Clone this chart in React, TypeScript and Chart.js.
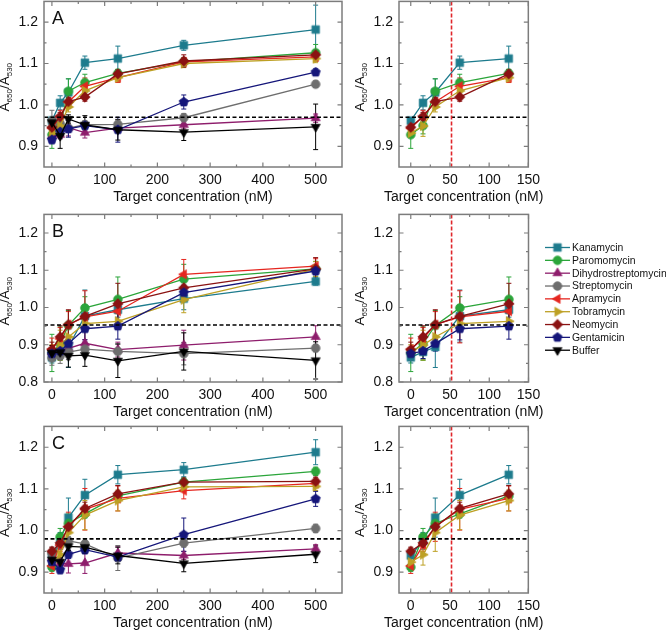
import React, { useEffect, useRef } from 'react';
import { Chart, registerables } from 'chart.js';

Chart.register(...registerables);

const FONT = '"Liberation Sans", Arial, Helvetica, sans-serif';

// Target concentrations (nM)
const CONC = [0, 15.625, 31.25, 62.5, 125, 250, 500];

const SERIES_NAMES = ['Kanamycin', 'Paromomycin', 'Dihydrostreptomycin', 'Streptomycin', 'Apramycin', 'Tobramycin', 'Neomycin', 'Gentamicin', 'Buffer'];
const SERIES_COLORS = ['#1d7b8d', '#2ba53a', '#8e1d6c', '#6e6e6e', '#e5261f', '#bda024', '#8a1212', '#15167a', '#000000'];
const SERIES_SHAPES = ['square', 'circle', 'triangleUp', 'circle', 'triangleLeft', 'triangleRight', 'diamond', 'pentagon', 'triangleDown'];

// Tick labels
const X_TICKS_FULL = [0, 100, 200, 300, 400, 500];
const X_TICKS_ZOOM = [0, 50, 100, 150];
const Y_TICKS_AC = [0.9, 1.0, 1.1, 1.2];
const Y_TICKS_B = [0.8, 0.9, 1.0, 1.1, 1.2];

// Reference lines
const THRESHOLD_A = 0.97;
const THRESHOLD_B = 0.953;
const THRESHOLD_C = 0.98;
const LOD_NM = 52;

// Panel A values
const A_KANAMYCIN = [0.962, 1.005, 1.030, 1.102, 1.112, 1.144, 1.182];
const A_PAROMOMYCIN = [0.928, 0.950, 1.033, 1.054, 1.076, 1.104, 1.126];
const A_DIHYDROSTREP = [0.925, 0.928, 0.945, 0.933, 0.944, 0.952, 0.968];
const A_STREPTOMYCIN = [0.962, 0.955, 0.944, 0.952, 0.953, 0.969, 1.050];
const A_APRAMYCIN = [0.944, 0.972, 1.007, 1.045, 1.066, 1.104, 1.116];
const A_TOBRAMYCIN = [0.932, 0.949, 0.995, 1.034, 1.066, 1.100, 1.112];
const A_NEOMYCIN = [0.946, 0.972, 1.008, 1.019, 1.075, 1.106, 1.121];
const A_GENTAMICIN = [0.916, 0.935, 0.942, 0.950, 0.940, 1.007, 1.079];
const A_BUFFER = [0.958, 0.925, 0.966, 0.952, 0.940, 0.934, 0.947];

const A_KANAMYCIN_ERR = [0.008, 0.017, 0.033, 0.016, 0.030, 0.012, 0.059];
const A_PAROMOMYCIN_ERR = [0.033, 0.020, 0.030, 0.020, 0.010, 0.010, 0.020];
const A_DIHYDROSTREP_ERR = [0.010, 0.010, 0.020, 0.013, 0.010, 0.010, 0.010];
const A_STREPTOMYCIN_ERR = [0.025, 0.010, 0.010, 0.010, 0.010, 0.010, 0.008];
const A_APRAMYCIN_ERR = [0.010, 0.015, 0.015, 0.020, 0.012, 0.010, 0.010];
const A_TOBRAMYCIN_ERR = [0.010, 0.025, 0.012, 0.010, 0.010, 0.010, 0.010];
const A_NEOMYCIN_ERR = [0.010, 0.010, 0.010, 0.010, 0.010, 0.015, 0.010];
const A_GENTAMICIN_ERR = [0.010, 0.015, 0.020, 0.010, 0.030, 0.017, 0.008];
const A_BUFFER_ERR = [0.010, 0.030, 0.010, 0.022, 0.025, 0.020, 0.055];

// Panel B values
const B_KANAMYCIN = [0.866, 0.881, 0.894, 0.977, 0.994, 1.024, 1.070];
const B_PAROMOMYCIN = [0.878, 0.903, 0.952, 0.999, 1.022, 1.076, 1.104];
const B_DIHYDROSTREP = [0.880, 0.885, 0.890, 0.904, 0.887, 0.899, 0.921];
const B_STREPTOMYCIN = [0.865, 0.870, 0.880, 0.888, 0.882, 0.876, 0.891];
const B_APRAMYCIN = [0.888, 0.916, 0.954, 0.975, 0.990, 1.089, 1.111];
const B_TOBRAMYCIN = [0.880, 0.899, 0.921, 0.957, 0.963, 1.021, 1.103];
const B_NEOMYCIN = [0.887, 0.921, 0.954, 0.976, 1.010, 1.053, 1.104];
const B_GENTAMICIN = [0.876, 0.883, 0.903, 0.943, 0.950, 1.040, 1.098];
const B_BUFFER = [0.878, 0.880, 0.870, 0.872, 0.857, 0.882, 0.858];

const B_KANAMYCIN_ERR = [0.015, 0.020, 0.055, 0.070, 0.020, 0.030, 0.010];
const B_PAROMOMYCIN_ERR = [0.050, 0.045, 0.040, 0.030, 0.060, 0.040, 0.020];
const B_DIHYDROSTREP_ERR = [0.010, 0.020, 0.020, 0.010, 0.020, 0.040, 0.030];
const B_STREPTOMYCIN_ERR = [0.020, 0.020, 0.020, 0.010, 0.020, 0.030, 0.010];
const B_APRAMYCIN_ERR = [0.030, 0.030, 0.035, 0.070, 0.030, 0.040, 0.020];
const B_TOBRAMYCIN_ERR = [0.020, 0.040, 0.030, 0.020, 0.020, 0.035, 0.020];
const B_NEOMYCIN_ERR = [0.020, 0.030, 0.040, 0.030, 0.055, 0.030, 0.030];
const B_GENTAMICIN_ERR = [0.010, 0.020, 0.020, 0.030, 0.035, 0.020, 0.010];
const B_BUFFER_ERR = [0.020, 0.020, 0.030, 0.030, 0.045, 0.050, 0.050];

// Panel C values
const C_KANAMYCIN = [0.940, 0.975, 1.031, 1.085, 1.134, 1.146, 1.188];
const C_PAROMOMYCIN = [0.912, 0.985, 1.017, 1.040, 1.083, 1.116, 1.142];
const C_DIHYDROSTREP = [0.935, 0.922, 0.920, 0.922, 0.946, 0.940, 0.956];
const C_STREPTOMYCIN = [0.945, 0.965, 0.975, 0.968, 0.934, 0.970, 1.005];
const C_APRAMYCIN = [0.915, 0.965, 1.009, 1.051, 1.077, 1.096, 1.113];
const C_TOBRAMYCIN = [0.924, 0.942, 0.995, 1.037, 1.072, 1.105, 1.106];
const C_NEOMYCIN = [0.950, 0.970, 1.009, 1.053, 1.088, 1.116, 1.118];
const C_GENTAMICIN = [0.925, 0.906, 0.943, 0.954, 0.936, 0.990, 1.076];
const C_BUFFER = [0.930, 0.925, 0.962, 0.960, 0.940, 0.921, 0.943];

const C_KANAMYCIN_ERR = [0.015, 0.020, 0.047, 0.038, 0.022, 0.017, 0.030];
const C_PAROMOMYCIN_ERR = [0.010, 0.020, 0.010, 0.010, 0.010, 0.010, 0.010];
const C_DIHYDROSTREP_ERR = [0.010, 0.010, 0.022, 0.025, 0.015, 0.010, 0.010];
const C_STREPTOMYCIN_ERR = [0.015, 0.010, 0.010, 0.012, 0.030, 0.010, 0.010];
const C_APRAMYCIN_ERR = [0.018, 0.015, 0.035, 0.050, 0.030, 0.020, 0.010];
const C_TOBRAMYCIN_ERR = [0.015, 0.025, 0.045, 0.035, 0.025, 0.010, 0.010];
const C_NEOMYCIN_ERR = [0.010, 0.010, 0.010, 0.015, 0.020, 0.010, 0.010];
const C_GENTAMICIN_ERR = [0.010, 0.010, 0.010, 0.010, 0.010, 0.040, 0.018];
const C_BUFFER_ERR = [0.010, 0.010, 0.010, 0.015, 0.020, 0.020, 0.020];

const A_VALUES = [A_KANAMYCIN, A_PAROMOMYCIN, A_DIHYDROSTREP, A_STREPTOMYCIN, A_APRAMYCIN, A_TOBRAMYCIN, A_NEOMYCIN, A_GENTAMICIN, A_BUFFER];
const A_ERRORS = [A_KANAMYCIN_ERR, A_PAROMOMYCIN_ERR, A_DIHYDROSTREP_ERR, A_STREPTOMYCIN_ERR, A_APRAMYCIN_ERR, A_TOBRAMYCIN_ERR, A_NEOMYCIN_ERR, A_GENTAMICIN_ERR, A_BUFFER_ERR];
const B_VALUES = [B_KANAMYCIN, B_PAROMOMYCIN, B_DIHYDROSTREP, B_STREPTOMYCIN, B_APRAMYCIN, B_TOBRAMYCIN, B_NEOMYCIN, B_GENTAMICIN, B_BUFFER];
const B_ERRORS = [B_KANAMYCIN_ERR, B_PAROMOMYCIN_ERR, B_DIHYDROSTREP_ERR, B_STREPTOMYCIN_ERR, B_APRAMYCIN_ERR, B_TOBRAMYCIN_ERR, B_NEOMYCIN_ERR, B_GENTAMICIN_ERR, B_BUFFER_ERR];
const C_VALUES = [C_KANAMYCIN, C_PAROMOMYCIN, C_DIHYDROSTREP, C_STREPTOMYCIN, C_APRAMYCIN, C_TOBRAMYCIN, C_NEOMYCIN, C_GENTAMICIN, C_BUFFER];
const C_ERRORS = [C_KANAMYCIN_ERR, C_PAROMOMYCIN_ERR, C_DIHYDROSTREP_ERR, C_STREPTOMYCIN_ERR, C_APRAMYCIN_ERR, C_TOBRAMYCIN_ERR, C_NEOMYCIN_ERR, C_GENTAMICIN_ERR, C_BUFFER_ERR];

const ALL_SERIES = [0, 1, 2, 3, 4, 5, 6, 7, 8];
const ZOOM_SERIES_AC = [0, 1, 4, 5, 6];
const ZOOM_SERIES_B = [0, 1, 4, 5, 6, 7];

// ---------- drawing helpers ----------
const markerCache: Record<string, HTMLCanvasElement> = {};
function markerPath(ctx: CanvasRenderingContext2D, shape: string, cx: number, cy: number) {
  ctx.beginPath();
  if (shape === 'square') {
    const h = 3.8;
    ctx.rect(cx - h, cy - h, 2 * h, 2 * h);
  } else if (shape === 'circle') {
    ctx.arc(cx, cy, 4.3, 0, Math.PI * 2);
  } else if (shape === 'diamond') {
    const r = 5.2;
    ctx.moveTo(cx, cy - r);
    ctx.lineTo(cx + r, cy);
    ctx.lineTo(cx, cy + r);
    ctx.lineTo(cx - r, cy);
    ctx.closePath();
  } else if (shape === 'pentagon') {
    const r = 4.8;
    for (let k = 0; k < 5; k++) {
      const ang = -Math.PI / 2 + (k * 2 * Math.PI) / 5;
      const px = cx + r * Math.cos(ang);
      const py = cy + r * Math.sin(ang);
      if (k === 0) ctx.moveTo(px, py);
      else ctx.lineTo(px, py);
    }
    ctx.closePath();
  } else {
    const base: Record<string, number> = { triangleUp: -90, triangleDown: 90, triangleLeft: 180, triangleRight: 0 };
    const a0 = (base[shape] * Math.PI) / 180;
    const r = 5.2;
    for (let k = 0; k < 3; k++) {
      const ang = a0 + (k * 2 * Math.PI) / 3;
      const px = cx + r * Math.cos(ang);
      const py = cy + r * Math.sin(ang);
      if (k === 0) ctx.moveTo(px, py);
      else ctx.lineTo(px, py);
    }
    ctx.closePath();
  }
}
function markerImage(shape: string, color: string): HTMLCanvasElement {
  const key = shape + color;
  if (markerCache[key]) return markerCache[key];
  const c = document.createElement('canvas');
  c.width = 14;
  c.height = 14;
  const ctx = c.getContext('2d')!;
  markerPath(ctx, shape, 7, 7);
  ctx.fillStyle = color;
  ctx.fill();
  ctx.lineWidth = 0.8;
  ctx.strokeStyle = color;
  ctx.stroke();
  markerCache[key] = c;
  return c;
}

function drawYTitle(ctx: CanvasRenderingContext2D, x: number, cy: number) {
  const big = `13.5px ${FONT}`;
  const small = `8px ${FONT}`;
  const parts: [string, string, number][] = [
    ['A', big, 0],
    ['650', small, 3],
    ['/A', big, 0],
    ['530', small, 3],
  ];
  ctx.save();
  ctx.translate(x, cy);
  ctx.rotate(-Math.PI / 2);
  ctx.textAlign = 'left';
  ctx.textBaseline = 'alphabetic';
  ctx.fillStyle = '#111';
  let total = 0;
  for (const [t, f] of parts) {
    ctx.font = f;
    total += ctx.measureText(t).width;
  }
  let px = -total / 2;
  for (const [t, f, dy] of parts) {
    ctx.font = f;
    ctx.fillText(t, px, dy);
    px += ctx.measureText(t).width;
  }
  ctx.restore();
}

type Box = { left: number; top: number; width: number; height: number };
type Area = { left: number; top: number; right: number; bottom: number };
type PanelSpec = {
  canvas: Box;
  area: Area;
  xMin: number;
  xMax: number;
  xTicks: number[];
  xMinor: number;
  yMin: number;
  yMax: number;
  yTicks: number[];
  yMinor: number;
  values: number[][];
  errors: number[][];
  seriesIdx: number[];
  nPoints: number;
  threshold: number;
  lod?: number;
  letter?: string;
  legend?: { x: number; y: number; dy: number };
};

function minorValues(min: number, max: number, step: number, majors: number[]) {
  const out: number[] = [];
  const start = Math.ceil(min / step - 1e-9) * step;
  for (let v = start; v <= max + 1e-9; v += step) {
    const vv = Math.round(v * 1000) / 1000;
    if (vv <= min + 1e-9 || vv >= max - 1e-9) continue;
    if (majors.some((m) => Math.abs(m - vv) < 1e-6)) continue;
    out.push(vv);
  }
  return out;
}

function makePlugin(spec: PanelSpec) {
  return {
    id: 'panelDecor',
    beforeDatasetsDraw(chart: any) {
      const ctx: CanvasRenderingContext2D = chart.ctx;
      const xs = chart.scales.x;
      const ys = chart.scales.y;
      const ca = chart.chartArea;
      ctx.save();
      ctx.beginPath();
      ctx.rect(ca.left, ca.top, ca.right - ca.left, ca.bottom - ca.top);
      ctx.clip();
      ctx.lineWidth = 1;
      spec.seriesIdx.forEach((si) => {
        ctx.strokeStyle = SERIES_COLORS[si];
        const vals = spec.values[si];
        const errs = spec.errors[si];
        for (let j = 0; j < spec.nPoints; j++) {
          const px = xs.getPixelForValue(CONC[j]);
          const yt = ys.getPixelForValue(vals[j] + errs[j]);
          const yb = ys.getPixelForValue(vals[j] - errs[j]);
          ctx.beginPath();
          ctx.moveTo(px, yt);
          ctx.lineTo(px, yb);
          ctx.moveTo(px - 2.5, yt);
          ctx.lineTo(px + 2.5, yt);
          ctx.moveTo(px - 2.5, yb);
          ctx.lineTo(px + 2.5, yb);
          ctx.stroke();
        }
      });
      ctx.restore();
    },
    afterDatasetsDraw(chart: any) {
      const ctx: CanvasRenderingContext2D = chart.ctx;
      const xs = chart.scales.x;
      const ys = chart.scales.y;
      const ca = chart.chartArea;
      ctx.save();
      ctx.strokeStyle = '#000';
      ctx.lineWidth = 1.6;
      ctx.setLineDash([4, 2.5]);
      const ty = ys.getPixelForValue(spec.threshold);
      ctx.beginPath();
      ctx.moveTo(ca.left, ty);
      ctx.lineTo(ca.right, ty);
      ctx.stroke();
      if (spec.lod !== undefined) {
        ctx.strokeStyle = '#e0262b';
        ctx.setLineDash([4, 2]);
        const lx = xs.getPixelForValue(spec.lod);
        ctx.beginPath();
        ctx.moveTo(lx, ca.top);
        ctx.lineTo(lx, ca.bottom);
        ctx.stroke();
      }
      ctx.restore();
    },
    afterDraw(chart: any) {
      const ctx: CanvasRenderingContext2D = chart.ctx;
      const xs = chart.scales.x;
      const ys = chart.scales.y;
      const ca = chart.chartArea;
      ctx.save();
      ctx.strokeStyle = '#7c7c7c';
      ctx.lineWidth = 1.5;
      ctx.strokeRect(ca.left, ca.top, ca.right - ca.left, ca.bottom - ca.top);
      ctx.lineWidth = 1.2;
      const yMinors = minorValues(spec.yMin, spec.yMax, spec.yMinor, spec.yTicks);
      const xMinors = minorValues(spec.xMin, spec.xMax, spec.xMinor, spec.xTicks);
      ctx.beginPath();
      const yt = (v: number, len: number) => {
        const p = ys.getPixelForValue(v);
        ctx.moveTo(ca.left, p);
        ctx.lineTo(ca.left + len, p);
        ctx.moveTo(ca.right, p);
        ctx.lineTo(ca.right - len, p);
      };
      const xt = (v: number, len: number) => {
        const p = xs.getPixelForValue(v);
        ctx.moveTo(p, ca.bottom);
        ctx.lineTo(p, ca.bottom - len);
        ctx.moveTo(p, ca.top);
        ctx.lineTo(p, ca.top + len);
      };
      spec.yTicks.forEach((v) => yt(v, 4.5));
      yMinors.forEach((v) => yt(v, 2.5));
      spec.xTicks.forEach((v) => xt(v, 4.5));
      xMinors.forEach((v) => xt(v, 2.5));
      ctx.stroke();

      ctx.fillStyle = '#111';
      ctx.font = `14px ${FONT}`;
      ctx.textAlign = 'center';
      ctx.textBaseline = 'middle';
      ctx.fillText('Target concentration (nM)', (ca.left + ca.right) / 2, ca.bottom + 30);

      drawYTitle(ctx, ca.left - 35, (ca.top + ca.bottom) / 2 + 3);

      if (spec.letter) {
        ctx.font = `18px ${FONT}`;
        ctx.textAlign = 'left';
        ctx.textBaseline = 'alphabetic';
        ctx.fillStyle = '#111';
        ctx.fillText(spec.letter, ca.left + 8, ca.top + 23);
      }

      if (spec.legend) {
        const lg = spec.legend;
        const ox = lg.x - spec.canvas.left;
        const oy = lg.y - spec.canvas.top;
        ctx.font = `10.4px ${FONT}`;
        ctx.textAlign = 'left';
        ctx.textBaseline = 'middle';
        ALL_SERIES.forEach((si, k) => {
          const y = oy + k * lg.dy;
          ctx.strokeStyle = SERIES_COLORS[si];
          ctx.lineWidth = 1.3;
          ctx.setLineDash([]);
          ctx.beginPath();
          ctx.moveTo(ox, y);
          ctx.lineTo(ox + 25, y);
          ctx.stroke();
          ctx.drawImage(markerImage(SERIES_SHAPES[si], SERIES_COLORS[si]), ox + 12.5 - 7, y - 7);
          ctx.fillStyle = '#111';
          ctx.fillText(SERIES_NAMES[si], ox + 27, y + 0.5);
        });
      }
      ctx.restore();
    },
  };
}

function buildConfig(spec: PanelSpec): any {
  const c = spec.canvas;
  const a = spec.area;
  const yAxisW = a.left - c.left;
  const xAxisH = c.top + c.height - a.bottom;
  const padTop = a.top - c.top;
  const padRight = c.left + c.width - a.right;
  const datasets = spec.seriesIdx.map((si) => ({
    label: SERIES_NAMES[si],
    data: spec.values[si].slice(0, spec.nPoints).map((v, j) => ({ x: CONC[j], y: v })),
    borderColor: SERIES_COLORS[si],
    backgroundColor: SERIES_COLORS[si],
    borderWidth: 1.3,
    pointStyle: markerImage(SERIES_SHAPES[si], SERIES_COLORS[si]),
    pointRadius: 5,
    pointHoverRadius: 5,
    order: -si,
    tension: 0,
    fill: false,
  }));
  const tickFont = { family: FONT, size: 14 };
  return {
    type: 'line',
    data: { datasets },
    options: {
      responsive: false,
      animation: false,
      devicePixelRatio: 1,
      events: [],
      layout: { padding: { left: 0, top: padTop, right: padRight, bottom: 0 } },
      plugins: { legend: { display: false }, tooltip: { enabled: false } },
      scales: {
        x: {
          type: 'linear',
          position: 'bottom',
          min: spec.xMin,
          max: spec.xMax,
          grid: { display: false, drawTicks: false },
          border: { display: false },
          ticks: {
            font: tickFont,
            color: '#111',
            padding: 5,
            maxRotation: 0,
            autoSkip: false,
            callback: (v: any) => String(v),
          },
          afterBuildTicks: (s: any) => {
            s.ticks = spec.xTicks.map((v) => ({ value: v }));
          },
          afterFit: (s: any) => {
            s.height = xAxisH;
          },
        },
        y: {
          type: 'linear',
          position: 'left',
          min: spec.yMin,
          max: spec.yMax,
          grid: { display: false, drawTicks: false },
          border: { display: false },
          ticks: {
            font: tickFont,
            color: '#111',
            padding: 6,
            autoSkip: false,
            callback: (v: any) => Number(v).toFixed(1),
          },
          afterBuildTicks: (s: any) => {
            s.ticks = spec.yTicks.map((v) => ({ value: v }));
          },
          afterFit: (s: any) => {
            s.width = yAxisW;
          },
        },
      },
    },
    plugins: [makePlugin(spec)],
  };
}

function Panel({ spec }: { spec: PanelSpec }) {
  const ref = useRef<HTMLCanvasElement>(null);
  useEffect(() => {
    const chart = new Chart(ref.current as HTMLCanvasElement, buildConfig(spec));
    return () => chart.destroy();
  }, [spec]);
  const c = spec.canvas;
  return (
    <canvas
      ref={ref}
      width={c.width}
      height={c.height}
      style={{ position: 'absolute', left: c.left, top: c.top, width: c.width, height: c.height }}
    />
  );
}

const LEFT_X = { xMin: -15, xMax: 550, xTicks: X_TICKS_FULL, xMinor: 50 };
const RIGHT_X = { xMin: -15, xMax: 150, xTicks: X_TICKS_ZOOM, xMinor: 25 };
const Y_AC = { yMin: 0.85, yMax: 1.25, yTicks: Y_TICKS_AC, yMinor: 0.05 };
const Y_B = { yMin: 0.8, yMax: 1.25, yTicks: Y_TICKS_B, yMinor: 0.05 };

const PANELS: PanelSpec[] = [
  {
    canvas: { left: 0, top: -13, width: 350, height: 225 },
    area: { left: 44, top: 1, right: 342, bottom: 167 },
    ...LEFT_X, ...Y_AC,
    values: A_VALUES, errors: A_ERRORS, seriesIdx: ALL_SERIES, nPoints: 7,
    threshold: THRESHOLD_A, letter: 'A',
  },
  {
    canvas: { left: 345, top: -13, width: 200, height: 225 },
    area: { left: 399, top: 1, right: 528.5, bottom: 167 },
    ...RIGHT_X, ...Y_AC,
    values: A_VALUES, errors: A_ERRORS, seriesIdx: ZOOM_SERIES_AC, nPoints: 5,
    threshold: THRESHOLD_A, lod: LOD_NM,
  },
  {
    canvas: { left: 0, top: 200, width: 350, height: 227 },
    area: { left: 44, top: 214, right: 342, bottom: 382 },
    ...LEFT_X, ...Y_B,
    values: B_VALUES, errors: B_ERRORS, seriesIdx: ALL_SERIES, nPoints: 7,
    threshold: THRESHOLD_B, letter: 'B',
  },
  {
    canvas: { left: 345, top: 200, width: 321, height: 227 },
    area: { left: 399, top: 214, right: 528.5, bottom: 382 },
    ...RIGHT_X, ...Y_B,
    values: B_VALUES, errors: B_ERRORS, seriesIdx: ZOOM_SERIES_B, nPoints: 5,
    threshold: THRESHOLD_B, lod: LOD_NM,
    legend: { x: 545, y: 247.5, dy: 12.84 },
  },
  {
    canvas: { left: 0, top: 412, width: 350, height: 218 },
    area: { left: 44, top: 426, right: 342, bottom: 593 },
    ...LEFT_X, ...Y_AC,
    values: C_VALUES, errors: C_ERRORS, seriesIdx: ALL_SERIES, nPoints: 7,
    threshold: THRESHOLD_C, letter: 'C',
  },
  {
    canvas: { left: 345, top: 412, width: 200, height: 218 },
    area: { left: 399, top: 426, right: 528.5, bottom: 593 },
    ...RIGHT_X, ...Y_AC,
    values: C_VALUES, errors: C_ERRORS, seriesIdx: ZOOM_SERIES_AC, nPoints: 5,
    threshold: THRESHOLD_C, lod: LOD_NM,
  },
];

export default function App() {
  return (
    <div
      style={{
        position: 'absolute',
        left: 0,
        top: 0,
        width: 666,
        height: 630,
        overflow: 'hidden',
        background: '#ffffff',
      }}
    >
      {PANELS.map((p, i) => (
        <Panel key={i} spec={p} />
      ))}
    </div>
  );
}
